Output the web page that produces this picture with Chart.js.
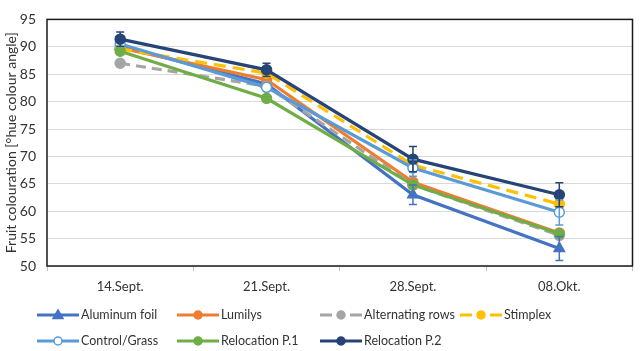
<!DOCTYPE html>
<html>
<head>
<meta charset="utf-8">
<script src="https://cdn.jsdelivr.net/npm/chart.js@4.4.1/dist/chart.umd.min.js"></script>
<style>
html,body{margin:0;padding:0;background:#fff;}
#wrap{width:640px;height:351px;position:relative;}
</style>
</head>
<body>
<div id="wrap"><canvas id="c" width="640" height="351"></canvas></div>
<script>
const categories = ["14.Sept.", "21.Sept.", "28.Sept.", "08.Okt."];
const aluminumFoil   = [90.1, 83.2, 63.0, 53.2];
const lumilys        = [89.8, 84.0, 65.3, 56.0];
const alternatingRows= [87.0, 82.8, 64.8, 55.6];
const stimplex       = [89.6, 85.2, 68.4, 61.3];
const controlGrass   = [90.5, 82.6, 67.9, 59.8];
const relocationP1   = [89.2, 80.6, 64.8, 55.9];
const relocationP2   = [91.4, 85.8, 69.5, 63.0];
const errAluminum    = [null, null, 1.8, 2.2];
const errControl     = [null, null, 1.5, 2.3];
const errRelocP2     = [1.3, 1.2, 2.3, 2.2];
const yTicks = [50, 55, 60, 65, 70, 75, 80, 85, 90, 95];

const FONT = "Lato, 'Open Sans', sans-serif";
const TXT = "#333333";

function ds(label, data, color, opts) {
  return Object.assign({
    label, data,
    borderColor: color, backgroundColor: color,
    pointBackgroundColor: color, pointBorderColor: color,
    borderWidth: 3.2, pointRadius: 5, pointBorderWidth: 1.5,
    pointStyle: 'circle', tension: 0, fill: false
  }, opts || {});
}

const datasets = [
  ds("Aluminum foil", aluminumFoil, "#4472C4", {pointStyle:'triangle', pointRadius:6, order:7, errors: errAluminum}),
  ds("Lumilys", lumilys, "#ED7D31", {order:6}),
  ds("Alternating rows", alternatingRows, "#A5A5A5", {borderDash:[10,6], order:5}),
  ds("Stimplex", stimplex, "#FFC000", {borderDash:[12,7], order:4}),
  ds("Control/Grass", controlGrass, "#5B9BD5", {pointBackgroundColor:'#ffffff', order:3, errors: errControl}),
  ds("Relocation P.1", relocationP1, "#70AD47", {order:2}),
  ds("Relocation P.2", relocationP2, "#264478", {order:1, errors: errRelocP2})
];

const boxPlugin = {
  id: 'box',
  afterDraw(chart) {
    const a = chart.chartArea, ctx = chart.ctx;
    ctx.save();
    ctx.strokeStyle = '#1a1a1a';
    ctx.lineWidth = 1.5;
    ctx.strokeRect(a.left, a.top, a.right - a.left, a.bottom - a.top);
    ctx.restore();
  }
};

const errorPlugin = {
  id: 'errbars',
  afterDatasetsDraw(chart) {
    const ctx = chart.ctx, y = chart.scales.y;
    chart.data.datasets.forEach((d, i) => {
      if (!d.errors) return;
      const meta = chart.getDatasetMeta(i);
      meta.data.forEach((pt, j) => {
        const e = d.errors[j];
        if (e == null) return;
        const v = d.data[j];
        const yt = y.getPixelForValue(v + e), yb = y.getPixelForValue(v - e);
        ctx.save();
        ctx.strokeStyle = d.borderColor;
        ctx.lineWidth = 1.5;
        ctx.beginPath();
        ctx.moveTo(pt.x, yt); ctx.lineTo(pt.x, yb);
        ctx.moveTo(pt.x - 4, yt); ctx.lineTo(pt.x + 4, yt);
        ctx.moveTo(pt.x - 4, yb); ctx.lineTo(pt.x + 4, yb);
        ctx.stroke();
        ctx.restore();
      });
    });
  }
};

const legendCols = [37, 177, 320, 460];
const legendRows = [315, 341];

const legendPlugin = {
  id: 'customLegend',
  afterDraw(chart) {
    const ctx = chart.ctx;
    chart.data.datasets.forEach((d, i) => {
      const row = i < 4 ? 0 : 1, col = i < 4 ? i : i - 4;
      const x0 = legendCols[col], yc = legendRows[row];
      ctx.save();
      ctx.strokeStyle = d.borderColor;
      ctx.lineWidth = 3;
      ctx.beginPath();
      if (d.borderDash) {
        ctx.moveTo(x0, yc); ctx.lineTo(x0 + 12, yc);
        ctx.moveTo(x0 + 30, yc); ctx.lineTo(x0 + 42, yc);
      } else {
        ctx.moveTo(x0, yc); ctx.lineTo(x0 + 42, yc);
      }
      ctx.stroke();
      const mx = x0 + 21;
      ctx.fillStyle = d.pointBackgroundColor;
      ctx.strokeStyle = d.pointBorderColor;
      ctx.lineWidth = 1.5;
      ctx.beginPath();
      if (d.pointStyle === 'triangle') {
        ctx.moveTo(mx, yc - 5); ctx.lineTo(mx + 5, yc + 3.5); ctx.lineTo(mx - 5, yc + 3.5); ctx.closePath();
      } else {
        ctx.arc(mx, yc, 4, 0, Math.PI * 2);
      }
      ctx.fill(); ctx.stroke();
      ctx.fillStyle = TXT;
      ctx.font = "12.5px " + FONT;
      ctx.textBaseline = 'middle';
      ctx.textAlign = 'left';
      ctx.fillText(d.label, x0 + 44, yc);
      ctx.restore();
    });
  }
};

new Chart(document.getElementById('c'), {
  type: 'line',
  data: { labels: categories, datasets },
  plugins: [boxPlugin, errorPlugin, legendPlugin],
  options: {
    responsive: false,
    animation: false,
    layout: { padding: { top: 13, right: 6, left: 0, bottom: 0 } },
    plugins: { legend: { display: false }, tooltip: { enabled: false } },
    scales: {
      x: {
        offset: true,
        afterFit(s) { s.height = 85; },
        grid: { drawOnChartArea: false, drawTicks: true, tickLength: 5, color: '#bfbfbf', offset: true },
        border: { display: false },
        ticks: { color: TXT, font: { family: FONT, size: 13 }, padding: 8 }
      },
      y: {
        min: 50, max: 95,
        afterBuildTicks(s) { s.ticks = yTicks.map(v => ({ value: v })); },
        afterFit(s) { s.width = 47; },
        grid: { color: '#d9d9d9', lineWidth: 1, drawTicks: false },
        border: { display: false },
        ticks: { color: TXT, font: { family: FONT, size: 14 }, padding: 11 },
        title: { display: true, text: 'Fruit colouration [°hue colour angle]', color: TXT,
                 font: { family: FONT, size: 14 }, padding: { top: 3, bottom: 0 } }
      }
    }
  }
});
</script>
</body>
</html>
